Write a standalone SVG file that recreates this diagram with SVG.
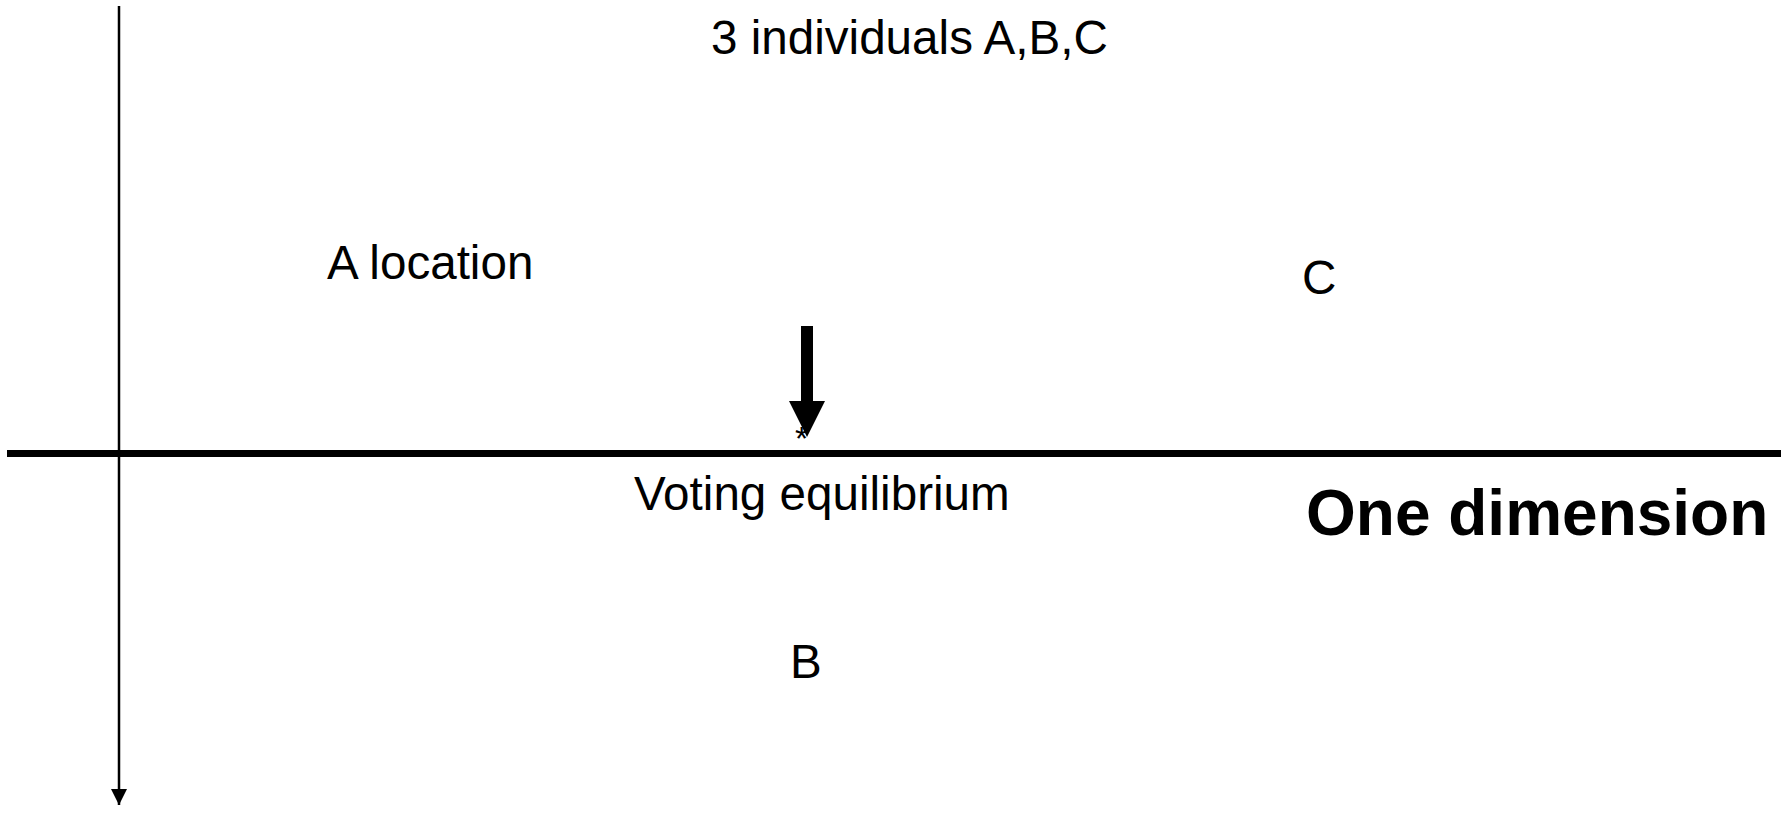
<svg xmlns="http://www.w3.org/2000/svg" width="1781" height="820" viewBox="0 0 1781 820">
<style>
.t{font-family:"Liberation Sans",Arial,sans-serif;font-size:47.6px;fill:#000}
.b{font-weight:bold;font-size:64px}
</style>
<defs>
<marker id="ah" markerUnits="userSpaceOnUse" markerWidth="16" markerHeight="16" refX="16" refY="8" orient="auto">
<path d="M0,0 L16,8 L0,16 Z" fill="#000"/>
</marker>
</defs>
<rect width="1781" height="820" fill="#fff"/>
<g id="connectors">
<line x1="119" y1="6" x2="119" y2="805" stroke="#000" stroke-width="2.5" marker-end="url(#ah)"/>
<line x1="7" y1="453.5" x2="1781" y2="453.5" stroke="#000" stroke-width="7"/>
</g>
<g id="star"><text class="t" x="795" y="450" style="font-size:34px">*</text></g>
<g id="arrow">
<rect x="801" y="326" width="12" height="76" fill="#000"/>
<path d="M789,401 L825,401 L807,437 Z" fill="#000"/>
</g>
<g id="title"><text class="t" x="711" y="54">3 individuals A,B,C</text></g>
<g id="nodeA"><text class="t" x="327" y="279">A location</text></g>
<g id="nodeC"><text class="t" x="1302" y="294">C</text></g>
<g id="nodeB"><text class="t" x="790" y="678">B</text></g>
<g id="equilibrium"><text class="t" x="634" y="510">Voting equilibrium</text></g>
<g id="dimension"><text class="t b" x="1306" y="535">One dimension</text></g>
</svg>
